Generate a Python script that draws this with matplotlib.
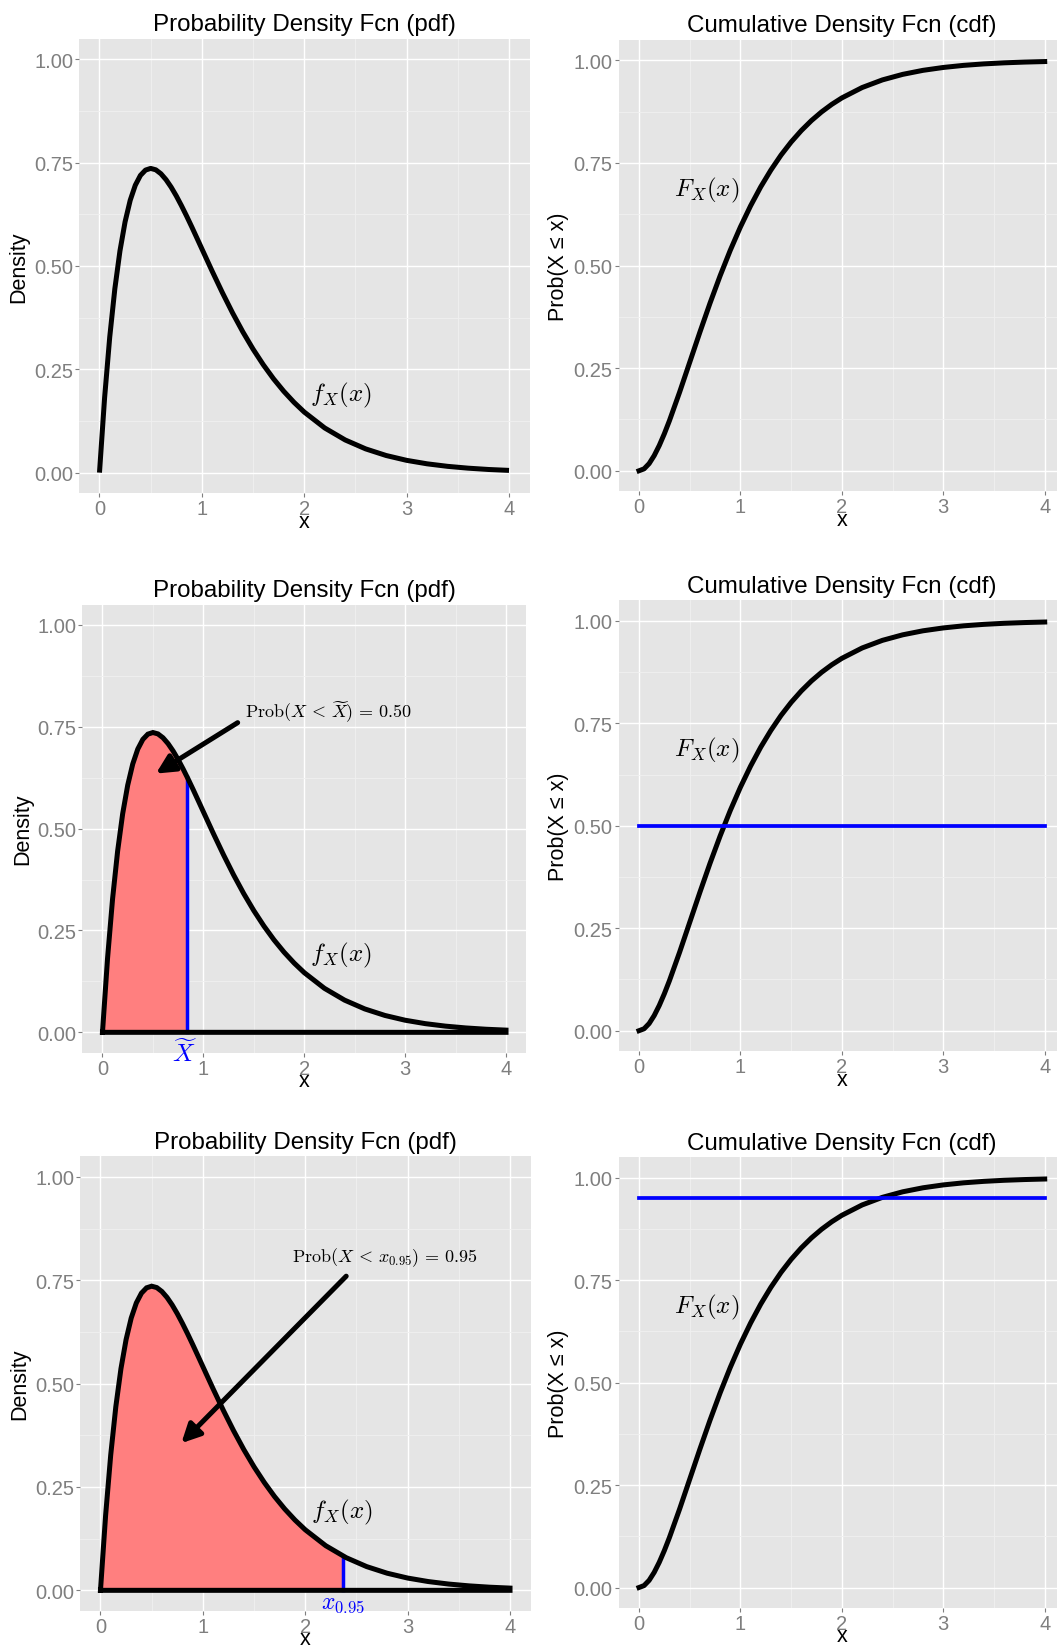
import matplotlib
matplotlib.use("Agg")
import matplotlib.pyplot as plt
from matplotlib.ticker import MultipleLocator

plt.rcParams['font.family'] = ['Liberation Sans', 'DejaVu Sans']
plt.rcParams['mathtext.fontset'] = 'cm'

# density curve
pdf_x = [0, 0.05, 0.1, 0.15, 0.2, 0.25, 0.3, 0.35, 0.4, 0.45, 0.5, 0.55, 0.6, 0.65,
         0.7, 0.75, 0.8, 0.85, 0.9, 0.95, 1.0, 1.1, 1.2, 1.3, 1.4, 1.5, 1.6, 1.7, 1.8,
         1.9, 2.0, 2.2, 2.4, 2.6, 2.8, 3.0, 3.2, 3.4, 3.6, 3.8, 4.0]
pdf_y = [0, 0.181, 0.3275, 0.4445, 0.5363, 0.6065, 0.6586, 0.6952, 0.7189, 0.7318,
         0.7358, 0.7324, 0.7229, 0.7086, 0.6905, 0.6694, 0.6460, 0.6211, 0.5951, 0.5683,
         0.5413, 0.4875, 0.4355, 0.3862, 0.3405, 0.2987, 0.2609, 0.2269, 0.1967, 0.1700,
         0.1465, 0.1080, 0.0790, 0.0574, 0.0414, 0.0297, 0.0213, 0.0152, 0.0108, 0.0076,
         0.0054]

# cumulative curve
cdf_x = [0, 0.05, 0.1, 0.15, 0.2, 0.25, 0.3, 0.4, 0.5, 0.6, 0.7, 0.8, 0.9, 1.0, 1.1,
         1.2, 1.3, 1.4, 1.5, 1.6, 1.7, 1.8, 1.9, 2.0, 2.2, 2.4, 2.6, 2.8, 3.0, 3.2, 3.4,
         3.6, 3.8, 4.0]
cdf_y = [0, 0.0047, 0.0175, 0.0370, 0.0616, 0.0902, 0.1219, 0.1912, 0.2642, 0.3374,
         0.4082, 0.4751, 0.5372, 0.5940, 0.6454, 0.6916, 0.7325, 0.7690, 0.8009, 0.8288,
         0.8532, 0.8743, 0.8926, 0.9084, 0.9337, 0.9523, 0.9658, 0.9756, 0.9826, 0.9877,
         0.9913, 0.9939, 0.9957, 0.9970]

# quantiles: (x, density at x, probability)
median_q = (0.84, 0.626, 0.50)
q95 = (2.37, 0.083, 0.95)

W, H = 1057, 1649
fig = plt.figure(figsize=(W / 100, H / 100), dpi=100)

BG = '#E5E5E5'
FILL = '#FF7F7F'
BLUE = '#0000FF'
GREY = '#7F7F7F'


def panel(left, top, right, bottom, title, ylabel):
    ax = fig.add_axes([left / W, 1 - bottom / H, (right - left) / W, (bottom - top) / H])
    ax.set_facecolor(BG)
    for s in ax.spines.values():
        s.set_visible(False)
    ax.set_xlim(-0.2, 4.2)
    ax.set_ylim(-0.05, 1.05)
    ax.xaxis.set_major_locator(MultipleLocator(1))
    ax.xaxis.set_minor_locator(MultipleLocator(0.5))
    ax.yaxis.set_minor_locator(MultipleLocator(0.125))
    ax.set_yticks([0, 0.25, 0.5, 0.75, 1.0])
    ax.set_yticklabels(['0.00', '0.25', '0.50', '0.75', '1.00'])
    ax.grid(which='major', color='white', lw=1.0)
    ax.grid(which='minor', color='#F0F0F0', lw=0.6)
    ax.set_axisbelow(True)
    ax.tick_params(which='minor', length=0)
    ax.tick_params(which='major', colors=GREY, labelsize=14.5, length=2.8, width=0.8)
    ax.tick_params(axis='x', pad=1.5)
    ax.tick_params(axis='y', pad=1.5)
    ax.set_title(title, fontsize=17.4, pad=6)
    ax.text(0.5, -28 / (bottom - top), 'x', transform=ax.transAxes, ha='center',
            va='center', fontsize=15.5)
    ax.text(-60 / (right - left), 0.5, ylabel, transform=ax.transAxes, ha='center',
            va='center', rotation=90, fontsize=15.5)
    return ax


def pdf_panel(ax, q=None):
    if q is None:
        ax.plot(pdf_x, pdf_y, color='black', lw=3.6, solid_capstyle='butt')
    else:
        qx, qy, qp = q
        fx = [x for x in pdf_x if x < qx] + [qx]
        fy = [y for x, y in zip(pdf_x, pdf_y) if x < qx] + [qy]
        ax.fill_between(fx, fy, 0, facecolor=FILL, edgecolor='white', lw=0.8)
        ax.plot([qx, qx], [0, qy], color=BLUE, lw=2.5)
        ax.plot(pdf_x + [4.0, 0], pdf_y + [0, 0], color='black', lw=3.6,
                solid_joinstyle='miter')
    ax.text(2.36, 0.19, r'$f_X(x)$', fontsize=18, ha='center', va='center')


def cdf_panel(ax, level=None):
    ax.plot(cdf_x, cdf_y, color='black', lw=3.6)
    if level is not None:
        ax.plot([0, 4], [level, level], color=BLUE, lw=2.7)
    ax.text(0.67, 0.685, r'$F_X(x)$', fontsize=18, ha='center', va='center')


def arrow(ax, start, tip):
    ax.annotate('', xy=tip, xytext=start,
                arrowprops=dict(arrowstyle='-|>', lw=3.6, color='black',
                                mutation_scale=28, shrinkA=0, shrinkB=0))


pdf_title = 'Probability Density Fcn (pdf)'
cdf_title = 'Cumulative Density Fcn (cdf)'
cdf_ylabel = 'Prob(X \u2264 x)'

# row 1
ax = panel(79, 39.5, 529.5, 494.3, pdf_title, 'Density')
pdf_panel(ax)
ax = panel(618.7, 40.8, 1065, 492.3, cdf_title, cdf_ylabel)
cdf_panel(ax)

# row 2: median
ax = panel(82.3, 605.5, 526.2, 1053.7, pdf_title, 'Density')
pdf_panel(ax, median_q)
arrow(ax, (1.34, 0.76), (0.53, 0.635))
ax.text(1.41, 0.789, r'$\mathrm{Prob}(X\,<\,\widetilde{X})\,=\,0.50$', fontsize=13,
        ha='left', va='center')
ax.text(0.81, -0.049, r'$\widetilde{X}$', color=BLUE, fontsize=18,
        ha='center', va='center', clip_on=False)
ax = panel(618.7, 601.3, 1065, 1052.2, cdf_title, cdf_ylabel)
cdf_panel(ax, median_q[2])

# row 3: 95th percentile
ax = panel(80, 1157.3, 530.5, 1612, pdf_title, 'Density')
pdf_panel(ax, q95)
arrow(ax, (2.40, 0.76), (0.79, 0.356))
ax.text(1.87, 0.808, r'$\mathrm{Prob}(X\,<\,x_{0.95})\,=\,0.95$', fontsize=13,
        ha='left', va='center')
ax.text(2.365, -0.031, r'$x_{0.95}$', color=BLUE, fontsize=17,
        ha='center', va='center', clip_on=False)
ax = panel(618.7, 1158.3, 1065, 1609, cdf_title, cdf_ylabel)
cdf_panel(ax, q95[2])

fig.savefig('out.png', dpi=100)
